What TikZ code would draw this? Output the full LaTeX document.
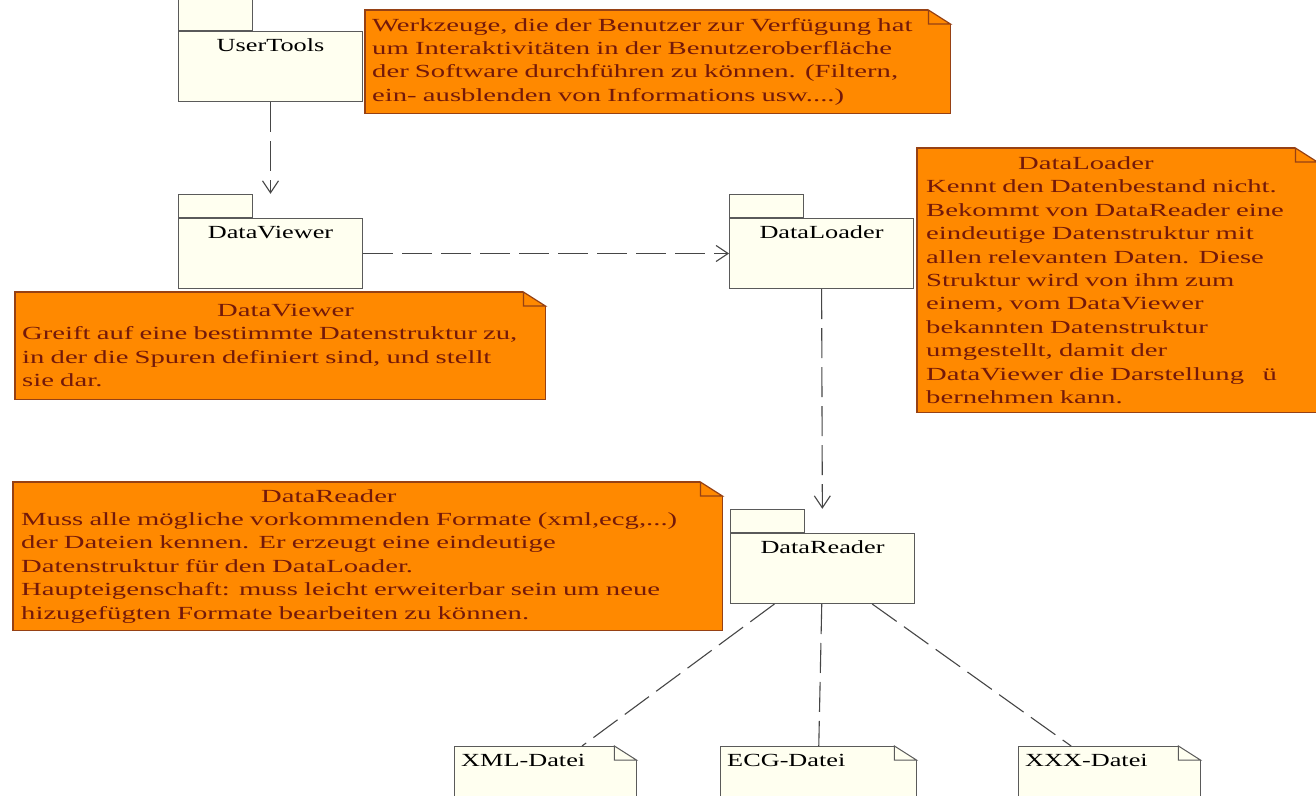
\documentclass[tikz,border=0pt]{standalone}
\usepackage{fontspec}
\setmainfont{Liberation Serif}[FakeStretch=1.55]
\newfontfamily\pkgfont{Liberation Serif}[FakeStretch=1.42]
\usepackage{tikz}
\usetikzlibrary{arrows.meta}
\usetikzlibrary{fit}

\definecolor{pkgfill}{RGB}{255,255,240}
\definecolor{pkgline}{RGB}{90,90,90}
\definecolor{notefill}{RGB}{255,137,0}
\definecolor{noteline}{RGB}{150,65,20}
\definecolor{notetext}{RGB}{115,25,10}
\definecolor{linkline}{RGB}{70,70,70}

%% folded corner and outline of a note or file
\newcommand{\foldcorner}[2]{%
    \fill[white] ([xshift=-22pt]#1.north east) -- (#1.north east)
        -- ([yshift=-14pt]#1.north east) -- cycle;
    \draw[#2] ([xshift=-22pt]#1.north east) -- ([xshift=-22pt, yshift=-14pt]#1.north east)
        -- ([yshift=-14pt]#1.north east) -- cycle;
    \draw[#2, fill=none] ([xshift=-22pt]#1.north east) -- (#1.north west)
        -- (#1.south west) -- (#1.south east) -- ([yshift=-14pt]#1.north east);
}

\begin{document}
\begin{tikzpicture}[x = 1pt, y = -1pt,
    pkg/.style = {draw = pkgline, fill = pkgfill, line width = 1pt, anchor = north west,
        font = \pkgfont\fontsize{18.5}{22}\selectfont,
        minimum width = 184pt, text height = 13pt, text depth = 43pt, inner ysep = 7pt},
    pkgtab/.style = {draw = pkgline, fill = pkgfill, line width = 1pt, anchor = south west,
        minimum width = 74pt, minimum height = 23pt, inner sep = 0pt},
    note/.style = {fill = notefill, text = notetext, align = left, anchor = north west,
        inner ysep = 0pt, font = \fontsize{18.5}{23.4}\selectfont},
    notefold/.style = {draw = noteline, fill = notefill, line width = 1.2pt},
    file/.style = {fill = pkgfill, anchor = north west, align = left,
        font = \pkgfont\fontsize{18.5}{22}\selectfont,
        text width = 168pt, inner sep = 7pt, text height = 13pt, text depth = 27pt},
    filefold/.style = {draw = pkgline, fill = pkgfill, line width = 1pt},
    dep/.style = {draw = linkline, line width = 1.1pt, dash pattern = on 30pt off 9pt,
        -{Straight Barb[length = 12pt, width = 16pt]}},
    link/.style = {draw = linkline, line width = 1.1pt, dash pattern = on 30pt off 9pt}]

    \fill[white] (0, 0) rectangle (1316, 795);
    \clip (0, 0) rectangle (1316, 795);

    %% packages
    \node[pkg] (ut) at (178, 31) {UserTools};
    \node[pkgtab, minimum height = 35pt] (uttab) at (ut.north west) {};

    \node[pkg] (dv) at (178, 218) {DataViewer};
    \node[pkgtab] (dvtab) at (dv.north west) {};
    \node[fit = (dv)(dvtab), inner sep = 0pt] (dvpkg) {};

    \node[pkg] (dl) at (729, 218) {DataLoader};
    \node[pkgtab] (dltab) at (dl.north west) {};

    \node[pkg] (dr) at (730, 533) {DataReader};
    \node[pkgtab] (drtab) at (dr.north west) {};
    \node[fit = (dr)(drtab), inner sep = 0pt] (drpkg) {};

    %% notes
    \node[note, text width = 571pt, inner xsep = 7pt, minimum height = 103pt] (utnote) at (365, 10)
        {Werkzeuge, die der Benutzer zur Verfügung hat\\
         um Interaktivitäten in der Benutzeroberfläche\\
         der Software durchführen zu können. (Filtern,\\
         ein- ausblenden von Informations usw....)};
    \foldcorner{utnote}{notefold}

    \node[note, text width = 516pt, inner xsep = 7pt, minimum height = 107pt] (dvnote) at (15, 292)
        {\hspace*{195pt}DataViewer\\
         Greift auf eine bestimmte Datenstruktur zu,\\
         in der die Spuren definiert sind, und stellt\\
         sie dar.};
    \foldcorner{dvnote}{notefold}

    \node[note, text width = 382pt, inner xsep = 9pt, minimum height = 264pt] (dlnote) at (917, 148)
        {\hspace*{92pt}DataLoader\\
         Kennt den Datenbestand nicht.\\
         Bekommt von DataReader eine\\
         eindeutige Datenstruktur mit\\
         allen relevanten Daten. Diese\\
         Struktur wird von ihm zum\\
         einem, vom DataViewer\\
         bekannten Datenstruktur\\
         umgestellt, damit der\\
         DataViewer die Darstellung\ \ \ ü\\
         bernehmen kann.};
    \foldcorner{dlnote}{notefold}

    \node[note, text width = 693pt, inner xsep = 8pt, minimum height = 148pt] (drnote) at (13, 482)
        {\hspace*{240pt}DataReader\\
         Muss alle mögliche vorkommenden Formate (xml,ecg,...)\\
         der Dateien kennen. Er erzeugt eine eindeutige\\
         Datenstruktur für den DataLoader.\\
         Haupteigenschaft: muss leicht erweiterbar sein um neue\\
         hizugefügten Formate bearbeiten zu können.};
    \foldcorner{drnote}{notefold}

    %% files
    \node[file] (xml) at (454, 746) {XML-Datei};
    \foldcorner{xml}{filefold}
    \node[file, text width = 182pt] (ecg) at (720, 746) {ECG-Datei};
    \foldcorner{ecg}{filefold}
    \node[file] (xxx) at (1018, 746) {XXX-Datei};
    \foldcorner{xxx}{filefold}

    %% dependencies
    \draw[dep] (ut) -- (dvpkg);
    \draw[dep] (dv) -- (dl);
    \draw[dep] (dl) -- (drpkg);
    \draw[link] (dr) -- (xml);
    \draw[link] (dr) -- (ecg);
    \draw[link] (dr) -- (xxx);
\end{tikzpicture}
\end{document}
